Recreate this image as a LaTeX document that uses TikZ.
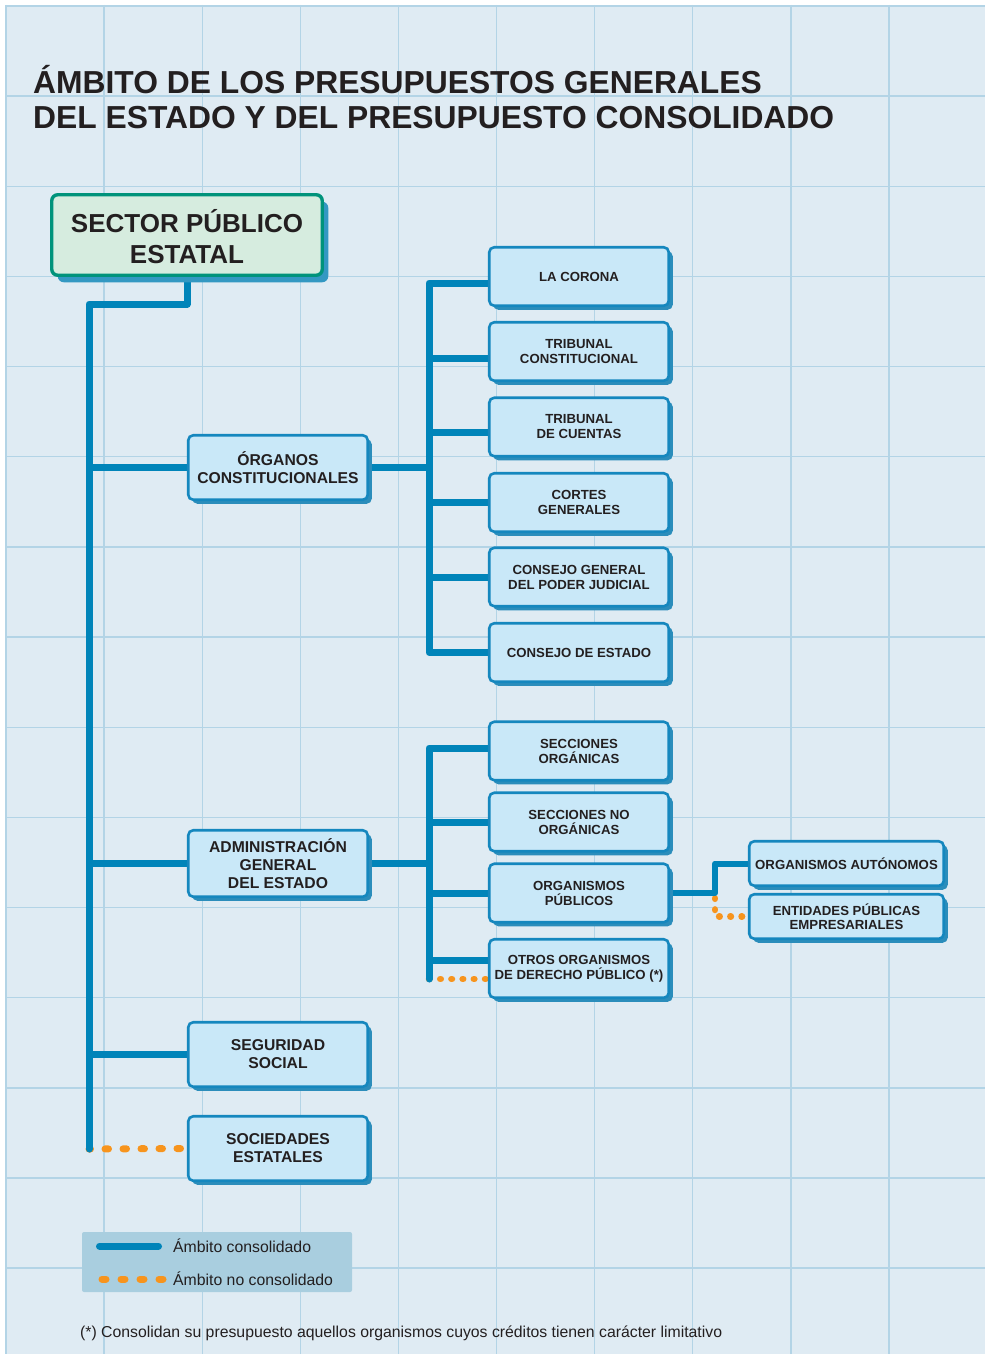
\documentclass[tikz,border=0pt]{standalone}
\usepackage{fontspec}
\setmainfont{Liberation Sans}
\usetikzlibrary{shadows}
\pgfdeclarelayer{back}
\pgfdeclarelayer{conns}
\pgfsetlayers{back,conns,main}

\definecolor{bgc}{HTML}{DFEBF3}
\definecolor{gridc}{HTML}{B3D4E6}
\definecolor{lineblue}{HTML}{0084B9}
\definecolor{boxfill}{HTML}{C9E8F8}
\definecolor{boxline}{HTML}{1587BE}
\definecolor{shadowc}{HTML}{2B8DBB}
\definecolor{secfill}{HTML}{D6ECDF}
\definecolor{secline}{HTML}{00937B}
\definecolor{secshadow}{HTML}{3398C2}
\definecolor{orangec}{HTML}{F7941D}
\definecolor{legc}{HTML}{A9CEDF}
\definecolor{txt}{HTML}{231F20}

\tikzset{
  box/.style={draw=boxline, line width=2.6pt, fill=boxfill, rounded corners=5pt,
    inner sep=0pt, align=center, text=txt,
    drop shadow={shadow xshift=4pt, shadow yshift=-4pt, fill=shadowc, opacity=1}},
  rbox/.style={box, minimum width=179.5pt, minimum height=58.5pt,
    font=\fontsize{13.2}{15}\selectfont\bfseries},
  lbox/.style={box, minimum width=179.5pt, minimum height=64.5pt,
    font=\fontsize{15.7}{18}\selectfont\bfseries},
  xbox/.style={box, minimum width=194.5pt, minimum height=44.5pt,
    font=\fontsize{13.2}{14.5}\selectfont\bfseries},
  conn/.style={draw=lineblue, line width=7pt, line join=round},
  odots/.style={draw=orangec, line width=7pt, line cap=round, dash pattern=on 3.5pt off 14.5pt},
  legdots/.style={draw=orangec, line width=7pt, line cap=round, dash pattern=on 4pt off 15pt},
  osmall/.style={draw=orangec, line width=6.5pt, line cap=round, dash pattern=on 0.6pt off 10.6pt},
  titletext/.style={anchor=base west, inner sep=0pt, text=txt, font=\fontsize{31.8}{35}\selectfont\bfseries},
  plain/.style={anchor=base west, inner sep=0pt, text=txt, font=\fontsize{15.8}{18}\selectfont}
}

\begin{document}
\begin{tikzpicture}[x=1pt,y=-1pt]
\useasboundingbox (0,0) rectangle (985,1354);
\begin{pgfonlayer}{back}
\fill[white] (0,0) rectangle (985,1354);
\fill[bgc] (5,5) rectangle (985,1354);
\foreach \i in {0,...,9} \draw[gridc, line width=1.4pt] ({6+98.1*\i},5) -- ({6+98.1*\i},1354);
\foreach \j in {0,...,14} \draw[gridc, line width=1.4pt] (5,{6+90.15*\j}) -- (985,{6+90.15*\j});
\end{pgfonlayer}

% title
\node[titletext] (title1) at (33,93) {ÁMBITO DE LOS PRESUPUESTOS GENERALES};
\node[titletext] (title2) at (33,128) {DEL ESTADO Y DEL PRESUPUESTO CONSOLIDADO};

% sector
\node[draw=secline, line width=3.4pt, fill=secfill, rounded corners=6pt, inner sep=0pt,
  minimum width=270.5pt, minimum height=80.5pt, align=center, text=txt,
  font=\fontsize{26}{31}\selectfont\bfseries, text height=57pt, text depth=0pt,
  drop shadow={shadow xshift=6pt, shadow yshift=-7pt, fill=secshadow, opacity=1}]
  (sector) at (187,235) {SECTOR PÚBLICO\\ESTATAL};

% left boxes
\node[lbox] (organos) at (278,467.5) {ÓRGANOS\\CONSTITUCIONALES};
\node[lbox, minimum height=66.5pt] (admin) at (278,863.5) {ADMINISTRACIÓN\\GENERAL\\DEL ESTADO};
\node[lbox] (seg) at (278,1054.5) {SEGURIDAD\\SOCIAL};
\node[lbox] (soc) at (278,1148.5) {SOCIEDADES\\ESTATALES};

% constitutional organs
\node[rbox] (corona) at (579,276.5) {LA CORONA};
\node[rbox] (tcons) at (579,351.5) {TRIBUNAL\\CONSTITUCIONAL};
\node[rbox] (tcuen) at (579,427) {TRIBUNAL\\DE CUENTAS};
\node[rbox] (cortes) at (579,502.5) {CORTES\\GENERALES};
\node[rbox] (cgpj) at (579,577) {CONSEJO GENERAL\\DEL PODER JUDICIAL};
\node[rbox] (cest) at (579,652.5) {CONSEJO DE ESTADO};

% administration
\node[rbox] (secorg) at (579,751) {SECCIONES\\ORGÁNICAS};
\node[rbox] (secno) at (579,822) {SECCIONES NO\\ORGÁNICAS};
\node[rbox] (orgpub) at (579,893) {ORGANISMOS\\PÚBLICOS};
\node[rbox] (otros) at (579,968.5) {OTROS ORGANISMOS\\DE DERECHO PÚBLICO (*)};

\node[xbox] (orgaut) at (846.5,863.5) {ORGANISMOS AUTÓNOMOS};
\node[xbox] (entid) at (846.5,916.5) {ENTIDADES PÚBLICAS\\EMPRESARIALES};

% connectors
\coordinate (m1) at (89,304);
\coordinate (m2) at (89,1149);
\coordinate (o1) at (429,283);
\coordinate (o2) at (429,652.5);
\coordinate (a1) at (429,748);
\coordinate (a2) at (429,979);
\coordinate (k) at (715,893);
\coordinate (ca) at ([yshift=-6.5pt]corona.west);
\coordinate (cb) at ([yshift=-6.5pt]tcons.west);
\coordinate (cc) at ([yshift=-5pt]tcuen.west);
\coordinate (sa) at ([yshift=3pt]secorg.west);
\coordinate (ot) at ([yshift=8.5pt]otros.west);
\coordinate (ob) at ([yshift=-10.5pt]otros.west);
\coordinate (l1) at (99.5,1246);
\coordinate (l2) at (158.5,1246);
\coordinate (l3) at (102,1279);
\coordinate (l4) at (163,1279);

\begin{pgfonlayer}{conns}
\draw[odots, dash phase=2pt] (m2) -- (soc.west);
\draw[osmall] (a2) -- (ob);
\draw[osmall, dash phase=6pt] (k) |- (entid.west);
\draw[conn, line cap=round] (sector.south) -- (sector.south |- m1) -- (m1) -- (m2);
\draw[conn] (organos.west) -- (organos.west -| m1);
\draw[conn] (admin.west) -- (admin.west -| m1);
\draw[conn] (seg.west) -- (seg.west -| m1);
\draw[conn] (ca) -- (o1) -- (o2) -- (cest.west);
\draw[conn] (organos.east) -- (organos.east -| o1);
\draw[conn] (cb) -- (cb -| o1);
\draw[conn] (cc) -- (cc -| o1);
\draw[conn] (cortes.west) -- (cortes.west -| o1);
\draw[conn] (cgpj.west) -- (cgpj.west -| o1);
\draw[conn, line cap=round] (sa) -- (a1) -- (a2);
\draw[conn] (admin.east) -- (admin.east -| a1);
\draw[conn] (secno.west) -- (secno.west -| a1);
\draw[conn] (orgpub.west) -- (orgpub.west -| a1);
\draw[conn] (ot) -- (ot -| a1);
\draw[conn, line width=6pt] (orgpub.east) -- (k) |- (orgaut.west);
\end{pgfonlayer}

% legend
\node[fill=legc, rounded corners=2pt, minimum width=270pt, minimum height=60pt, inner sep=0pt]
  (legend) at (217,1262) {};
\draw[conn, line cap=round] (l1) -- (l2);
\draw[legdots] (l3) -- (l4);
\node[plain] (leg1) at (173,1252) {Ámbito consolidado};
\node[plain] (leg2) at (173,1285.5) {Ámbito no consolidado};

\node[plain] (foot) at (80,1337.5) {(*) Consolidan su presupuesto aquellos organismos cuyos créditos tienen carácter limitativo};
\end{tikzpicture}
\end{document}
